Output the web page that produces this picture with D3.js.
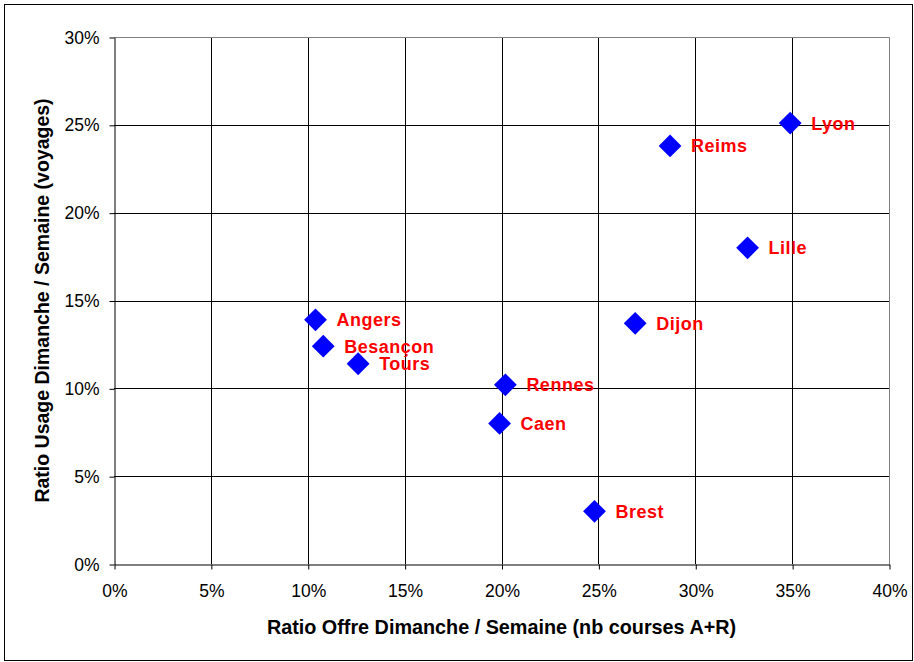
<!DOCTYPE html>
<html>
<head>
<meta charset="utf-8">
<script src="https://cdn.jsdelivr.net/npm/d3@7"></script>
<style>
  body { margin: 0; background: #fff; }
  svg { display: block; font-family: "Liberation Sans", Arial, sans-serif; }
</style>
</head>
<body>
<div id="chart"></div>
<script>
const cities = ["Angers", "Besançon", "Tours", "Rennes", "Caen", "Brest", "Dijon", "Reims", "Lyon", "Lille"];
const offreRatio = [0.104, 0.108, 0.126, 0.202, 0.199, 0.248, 0.269, 0.287, 0.349, 0.327];
const usageRatio = [0.139, 0.124, 0.114, 0.102, 0.080, 0.030, 0.137, 0.238, 0.251, 0.180];
const xTicks = [0, 0.05, 0.1, 0.15, 0.2, 0.25, 0.3, 0.35, 0.4];
const yTicks = [0, 0.05, 0.1, 0.15, 0.2, 0.25, 0.3];

const width = 914;
const height = 662;
const margin = { left: 114, right: 25, top: 37, bottom: 98 };

const svg = d3.select("#chart").append("svg")
  .attr("width", width)
  .attr("height", height);

// outer frame
svg.append("rect")
  .attr("x", 4.5).attr("y", 4.5)
  .attr("width", width - 6).attr("height", height - 6)
  .attr("fill", "none").attr("stroke", "#000").attr("stroke-width", 1);

const x = d3.scaleLinear().domain([0, 0.4]).range([margin.left, width - margin.right]);
const y = d3.scaleLinear().domain([0, 0.3]).range([height - margin.bottom, margin.top]);

const pct = d3.format(".0%");

// grid
const grid = svg.append("g");
grid.selectAll("line.v").data(xTicks.slice(1, -1)).enter().append("line")
  .attr("x1", d => Math.round(x(d)) + 0.5).attr("x2", d => Math.round(x(d)) + 0.5)
  .attr("y1", y(0.3)).attr("y2", y(0))
  .attr("stroke", "#000");
grid.selectAll("line.h").data(yTicks.slice(1, -1)).enter().append("line")
  .attr("x1", x(0)).attr("x2", x(0.4))
  .attr("y1", d => Math.round(y(d)) + 0.5).attr("y2", d => Math.round(y(d)) + 0.5)
  .attr("stroke", "#000");

// plot border top / right
svg.append("path")
  .attr("d", `M${x(0)},${Math.round(y(0.3)) + 0.5}H${Math.round(x(0.4)) + 0.5}V${y(0)}`)
  .attr("fill", "none").attr("stroke", "#808080");

// axes
const xAxis = svg.append("g")
  .attr("transform", `translate(0.5,${Math.round(y(0)) + 0.5})`)
  .call(d3.axisBottom(x).tickValues(xTicks).tickFormat(pct).tickSize(5).tickSizeOuter(0).tickPadding(15));
const yAxis = svg.append("g")
  .attr("transform", `translate(${Math.round(x(0)) + 0.5},0.5)`)
  .call(d3.axisLeft(y).tickValues(yTicks).tickFormat(pct).tickSize(5).tickSizeOuter(0).tickPadding(10));

[xAxis, yAxis].forEach(a => {
  a.attr("font-size", null).attr("font-family", null);
  a.select(".domain").attr("stroke", "#000");
  a.selectAll(".tick line").attr("stroke", "#000");
  a.selectAll(".tick text")
    .attr("fill", "#000")
    .style("font-size", "17.5px")
    .style("font-family", "'Liberation Sans', Arial, sans-serif");
});

// axis titles
svg.append("text")
  .attr("x", (x(0) + x(0.4)) / 2).attr("y", 634)
  .attr("text-anchor", "middle")
  .style("font-size", "19.8px").style("font-weight", "bold")
  .text("Ratio Offre Dimanche / Semaine (nb courses A+R)");

svg.append("text")
  .attr("transform", `translate(49,${(y(0) + y(0.3)) / 2}) rotate(-90)`)
  .attr("text-anchor", "middle")
  .style("font-size", "19.5px").style("font-weight", "bold")
  .text("Ratio Usage Dimanche / Semaine (voyages)");

// points
const pts = cities.map((c, i) => ({ name: c, ox: offreRatio[i], uy: usageRatio[i] }));
const diamond = d3.symbol().type(d3.symbolSquare).size(260);

svg.append("g").selectAll("path").data(pts).enter().append("path")
  .attr("d", diamond)
  .attr("transform", d => `translate(${x(d.ox)},${y(d.uy)}) rotate(45)`)
  .attr("fill", "#0000ff");

svg.append("g").selectAll("text").data(pts).enter().append("text")
  .attr("x", d => x(d.ox) + 21)
  .attr("y", d => y(d.uy) + 6.5)
  .attr("fill", "#ff0000")
  .style("font-size", "18px").style("font-weight", "bold")
  .style("letter-spacing", "0.5px")
  .text(d => d.name);
</script>
</body>
</html>
